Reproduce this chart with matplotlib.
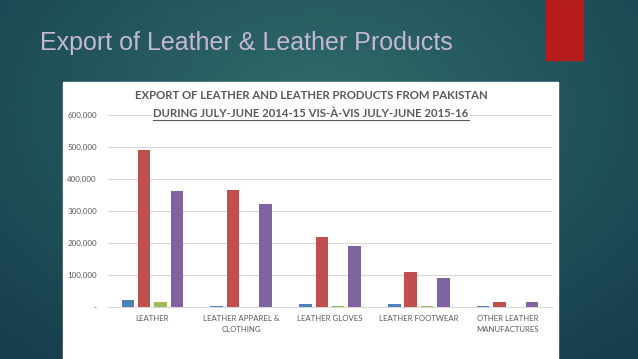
import numpy as np
import matplotlib
matplotlib.use("Agg")
import matplotlib.pyplot as plt
from matplotlib.patches import Rectangle

# data
categories = ["LEATHER", "LEATHER APPAREL &\nCLOTHING", "LEATHER GLOVES",
              "LEATHER FOOTWEAR", "OTHER LEATHER\nMANUFACTURES"]
series_1 = [22000, 2000, 8000, 8000, 2000]        # blue
series_2 = [490000, 366000, 218000, 109000, 15000]  # red
series_3 = [15000, 1500, 4000, 4000, 0]           # green
series_4 = [362000, 321000, 191000, 90000, 15000]  # purple
yticks = [0, 100000, 200000, 300000, 400000, 500000, 600000]
ytick_labels = ["-", "100,000", "200,000", "300,000", "400,000", "500,000", "600,000"]

colors = ["#4f81bd", "#c0504d", "#9bbb59", "#8064a2"]
W, H = 638, 359

fig = plt.figure(figsize=(W/100, H/100), dpi=100)

# slide background: dark teal with lighter centre
bg = fig.add_axes([0, 0, 1, 1])
xx, yy = np.meshgrid(np.linspace(0, 1, 320), np.linspace(0, 1, 180))
d = np.sqrt(((xx-0.5)/0.75)**2 + ((yy-0.3)/0.9)**2)
d = np.clip(d, 0, 1)
c_in = np.array([0x2f, 0x6c, 0x69])/255
c_out = np.array([0x16, 0x3d, 0x4e])/255
img = c_in[None, None, :]*(1-d[..., None]) + c_out[None, None, :]*d[..., None]
bg.imshow(img, extent=[0, W, H, 0], aspect="auto")
bg.set_xlim(0, W)
bg.set_ylim(H, 0)
bg.axis("off")

# red accent and chart picture frame
bg.add_patch(Rectangle((546, 0), 37, 60, color="#b71c1c", zorder=2))
bg.add_patch(Rectangle((63, 82), 495, 280, color="white", zorder=2))

bg.text(40, 50, "Export of Leather & Leather Products", fontsize=18,
        family="Liberation Sans", color="#c6b6d6", va="baseline", ha="left", zorder=3)

# chart axes
ax = fig.add_axes([108/W, 1-307/H, 444/W, 192/H])
ax.set_zorder(5)
ax.patch.set_alpha(0)
x = np.arange(len(categories))
bw = 0.14
step = 0.184
for i, (vals, c) in enumerate(zip([series_1, series_2, series_3, series_4], colors)):
    ax.bar(x + (i-1.5)*step, vals, width=bw, color=c, zorder=3)

ax.set_xlim(-0.5, len(categories)-0.5)
ax.set_ylim(0, 600000)
ax.set_yticks(yticks)
ax.set_yticklabels(ytick_labels, fontsize=5.8, color="#595959", family="Lato")
ax.set_xticks(x)
ax.set_xticklabels(categories, fontsize=5.6, color="#595959", family="Lato",
                   linespacing=1.6)
ax.tick_params(length=0, pad=8)
ax.tick_params(axis="x", pad=6)
ax.grid(axis="y", color="#d9d9d9", lw=0.8, zorder=0)
for s in ["top", "right", "left"]:
    ax.spines[s].set_visible(False)
ax.spines["bottom"].set_color("#d9d9d9")

# chart titles (drawn over the gridlines with a white backing)
tax = fig.add_axes([0, 0, 1, 1])
tax.set_zorder(6)
tax.patch.set_alpha(0)
tax.set_xlim(0, W)
tax.set_ylim(H, 0)
tax.axis("off")
tax.text(311, 99, "EXPORT OF LEATHER AND LEATHER PRODUCTS FROM PAKISTAN",
         fontsize=8.2, family="Lato", weight="bold", color="#595959",
         ha="center", va="baseline")
tax.text(311, 117, "DURING JULY-JUNE 2014-15 VIS-À-VIS JULY-JUNE 2015-16",
         fontsize=8.2, family="Lato", weight="bold", color="#595959",
         ha="center", va="baseline",
         bbox=dict(facecolor="white", edgecolor="none", pad=1))
tax.plot([153, 469], [119.5, 119.5], color="#595959", lw=0.8)

fig.savefig("out.png", dpi=100)
